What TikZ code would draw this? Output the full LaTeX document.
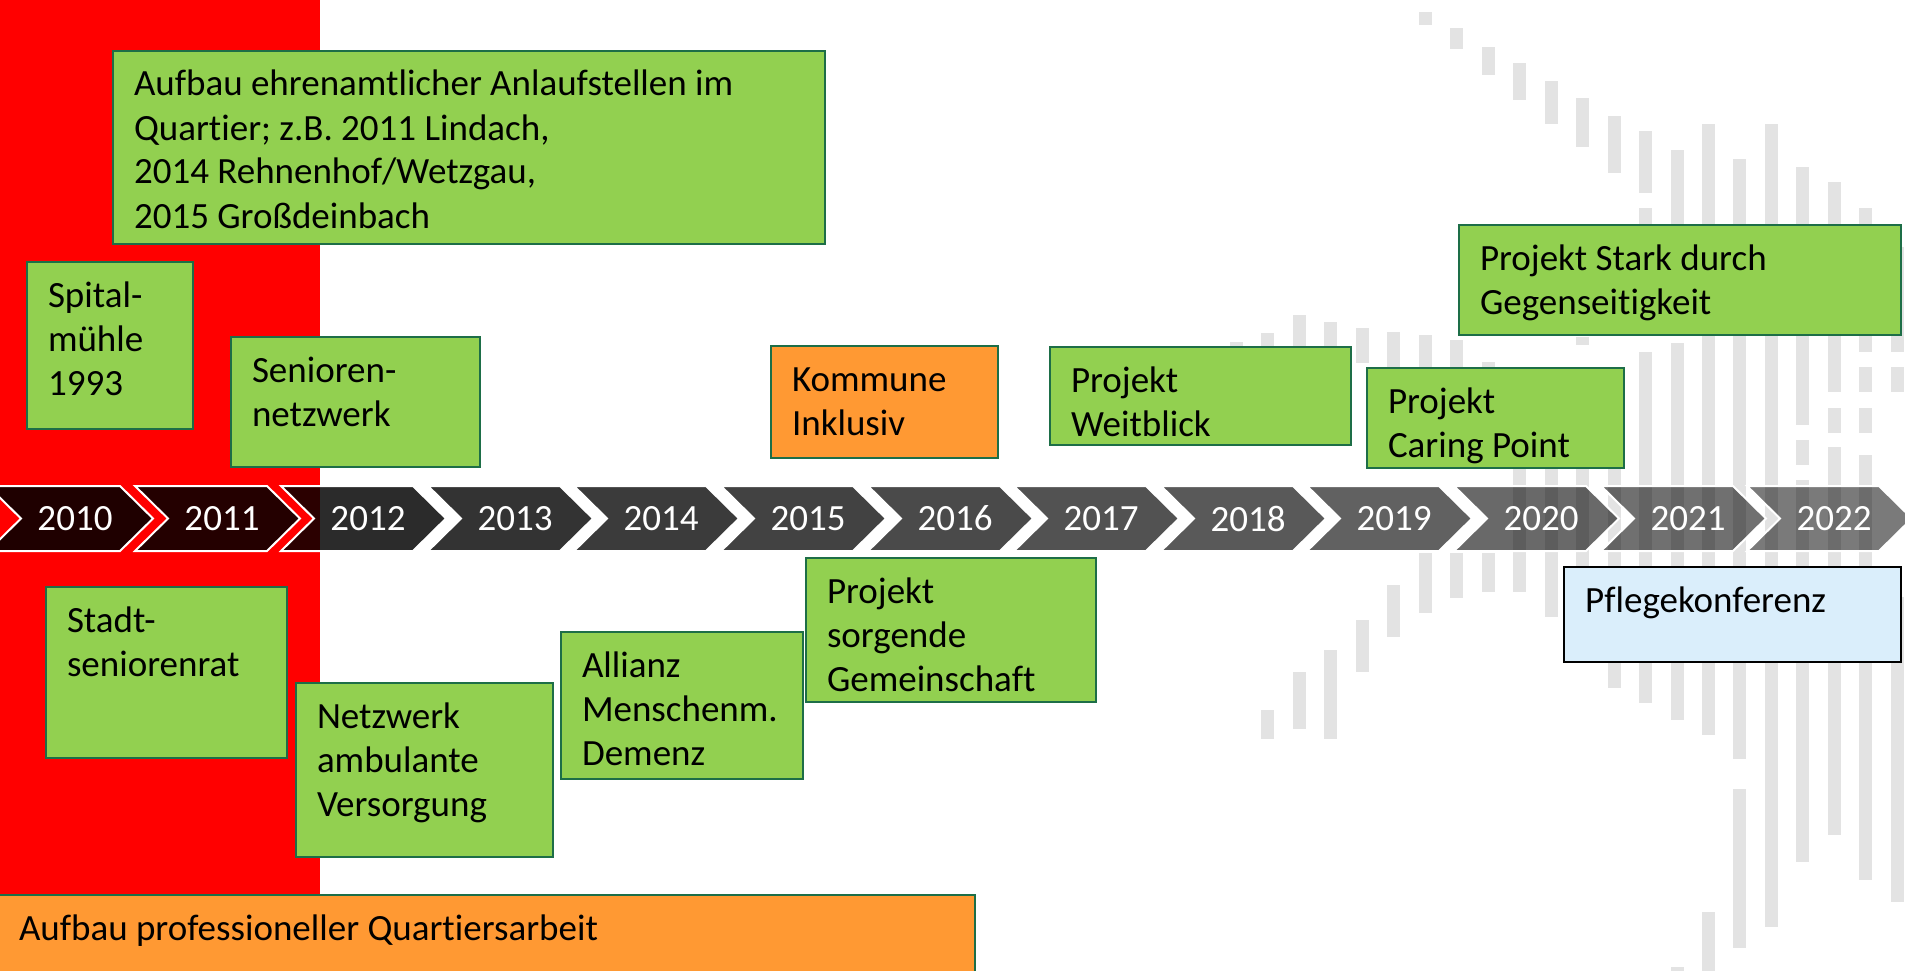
\documentclass[tikz,border=0pt]{standalone}
\usepackage{fontspec}
\setmainfont{Carlito}[Ligatures=CommonOff]
\definecolor{boxgreen}{HTML}{92D050}
\definecolor{boxedge}{HTML}{1D6E47}
\definecolor{boxorange}{HTML}{FF9933}
\definecolor{boxblue}{HTML}{DAEEFB}
\definecolor{barcol}{HTML}{E3E3E3}
\newcommand\boxtxt[3]{\parbox[t][#2][t]{#1}{\raggedright\rule{0pt}{28pt}#3}}

\begin{document}
\begin{tikzpicture}[x=1pt, y=-1pt, font=\fontsize{37pt}{44pt}\selectfont,
  box/.style={draw=boxedge, line width=2pt, fill=boxgreen, anchor=north west,
    inner xsep=21pt, inner ysep=17pt, outer sep=0pt},
  chev/.style={draw=white, line width=2pt, fill=black},
  year/.style={text=white},
  bar/.style={fill=barcol}]
\useasboundingbox (0,0) rectangle (1905,971);
\fill[red] (0,0) rectangle (320,971);

% grey bars in the background
\fill[bar] (1230,342) rectangle (1243,440);
\fill[bar] (1261,333) rectangle (1274,440);
\fill[bar] (1261,710) rectangle (1274,739);
\fill[bar] (1293,315) rectangle (1306,440);
\fill[bar] (1293,672) rectangle (1306,729);
\fill[bar] (1324,322) rectangle (1337,440);
\fill[bar] (1324,650) rectangle (1337,739);
\fill[bar] (1356,328) rectangle (1369,363);
\fill[bar] (1356,620) rectangle (1369,672);
\fill[bar] (1387,332) rectangle (1400,367);
\fill[bar] (1387,585) rectangle (1400,637);
\fill[bar] (1419,12) rectangle (1432,25);
\fill[bar] (1419,335) rectangle (1432,465);
\fill[bar] (1419,553) rectangle (1432,613);
\fill[bar] (1450,28) rectangle (1463,49);
\fill[bar] (1450,340) rectangle (1463,465);
\fill[bar] (1450,553) rectangle (1463,598);
\fill[bar] (1482,47) rectangle (1495,75);
\fill[bar] (1482,362) rectangle (1495,465);
\fill[bar] (1482,553) rectangle (1495,592);
\fill[bar] (1513,63) rectangle (1526,100);
\fill[bar] (1513,460) rectangle (1526,592);
\fill[bar] (1545,81) rectangle (1558,124);
\fill[bar] (1545,460) rectangle (1558,617);
\fill[bar] (1576,98) rectangle (1589,147);
\fill[bar] (1576,337) rectangle (1589,345);
\fill[bar] (1576,460) rectangle (1589,600);
\fill[bar] (1608,116) rectangle (1621,173);
\fill[bar] (1608,460) rectangle (1621,688);
\fill[bar] (1639,131) rectangle (1652,193);
\fill[bar] (1639,208) rectangle (1652,300);
\fill[bar] (1639,352) rectangle (1652,703);
\fill[bar] (1671,150) rectangle (1684,300);
\fill[bar] (1671,343) rectangle (1684,720);
\fill[bar] (1671,967) rectangle (1684,975);
\fill[bar] (1702,124) rectangle (1715,735);
\fill[bar] (1702,912) rectangle (1715,975);
\fill[bar] (1733,159) rectangle (1746,759);
\fill[bar] (1733,789) rectangle (1746,948);
\fill[bar] (1765,124) rectangle (1778,927);
\fill[bar] (1796,167) rectangle (1809,425);
\fill[bar] (1796,440) rectangle (1809,465);
\fill[bar] (1796,480) rectangle (1809,862);
\fill[bar] (1828,182) rectangle (1841,392);
\fill[bar] (1828,408) rectangle (1841,433);
\fill[bar] (1828,447) rectangle (1841,835);
\fill[bar] (1859,208) rectangle (1872,352);
\fill[bar] (1859,367) rectangle (1872,392);
\fill[bar] (1859,408) rectangle (1872,433);
\fill[bar] (1859,455) rectangle (1872,880);
\fill[bar] (1891,247) rectangle (1904,352);
\fill[bar] (1891,367) rectangle (1904,392);
\fill[bar] (1891,597) rectangle (1904,902);

% timeline
\filldraw[chev, fill opacity=.88] (-12,486) -- ++(132,0) -- ++(33,32.5) -- ++(-33,32.5) -- ++(-132,0) -- ++(33,-32.5) -- cycle;
\filldraw[chev, fill opacity=.86] (135,486) -- ++(132,0) -- ++(33,32.5) -- ++(-33,32.5) -- ++(-132,0) -- ++(33,-32.5) -- cycle;
\filldraw[chev, fill opacity=.83] (281,486) -- ++(132,0) -- ++(33,32.5) -- ++(-33,32.5) -- ++(-132,0) -- ++(33,-32.5) -- cycle;
\filldraw[chev, fill opacity=.80] (428,486) -- ++(132,0) -- ++(33,32.5) -- ++(-33,32.5) -- ++(-132,0) -- ++(33,-32.5) -- cycle;
\filldraw[chev, fill opacity=.77] (574,486) -- ++(132,0) -- ++(33,32.5) -- ++(-33,32.5) -- ++(-132,0) -- ++(33,-32.5) -- cycle;
\filldraw[chev, fill opacity=.74] (721,486) -- ++(132,0) -- ++(33,32.5) -- ++(-33,32.5) -- ++(-132,0) -- ++(33,-32.5) -- cycle;
\filldraw[chev, fill opacity=.71] (868,486) -- ++(132,0) -- ++(33,32.5) -- ++(-33,32.5) -- ++(-132,0) -- ++(33,-32.5) -- cycle;
\filldraw[chev, fill opacity=.68] (1014,486) -- ++(132,0) -- ++(33,32.5) -- ++(-33,32.5) -- ++(-132,0) -- ++(33,-32.5) -- cycle;
\filldraw[chev, fill opacity=.65] (1161,486) -- ++(132,0) -- ++(33,32.5) -- ++(-33,32.5) -- ++(-132,0) -- ++(33,-32.5) -- cycle;
\filldraw[chev, fill opacity=.62] (1307,486) -- ++(132,0) -- ++(33,32.5) -- ++(-33,32.5) -- ++(-132,0) -- ++(33,-32.5) -- cycle;
\filldraw[chev, fill opacity=.59] (1454,486) -- ++(132,0) -- ++(33,32.5) -- ++(-33,32.5) -- ++(-132,0) -- ++(33,-32.5) -- cycle;
\filldraw[chev, fill opacity=.56] (1601,486) -- ++(132,0) -- ++(33,32.5) -- ++(-33,32.5) -- ++(-132,0) -- ++(33,-32.5) -- cycle;
\filldraw[chev, fill opacity=.52] (1747,486) -- ++(132,0) -- ++(33,32.5) -- ++(-33,32.5) -- ++(-132,0) -- ++(33,-32.5) -- cycle;

\node[year] (y2010) at (75,518.5) {2010};
\node[year] (y2011) at (222,518.5) {2011};
\node[year] (y2012) at (368,518.5) {2012};
\node[year] (y2013) at (515,518.5) {2013};
\node[year] (y2014) at (661,518.5) {2014};
\node[year] (y2015) at (808,518.5) {2015};
\node[year] (y2016) at (955,518.5) {2016};
\node[year] (y2017) at (1101,518.5) {2017};
\node[year] (y2018) at (1248,518.5) {2018};
\node[year] (y2019) at (1394,518.5) {2019};
\node[year] (y2020) at (1541,518.5) {2020};
\node[year] (y2021) at (1688,518.5) {2021};
\node[year] (y2022) at (1834,518.5) {2022};

% boxes above the timeline
\node[box] (ehrenamt) at (113,51) {\boxtxt{670pt}{159pt}{Aufbau ehrenamtlicher Anlaufstellen im\\ Quartier; z.B. 2011 Lindach,\\ 2014 Rehnenhof/Wetzgau,\\ 2015 Großdeinbach}};
\node[box] (spital) at (27,262) {\boxtxt{124pt}{133pt}{Spital-\\ mühle\\ 1993}};
\node[box] (senioren) at (231,337) {\boxtxt{207pt}{96pt}{Senioren-\\ netzwerk}};
\node[box, fill=boxorange] (kommune) at (771,346) {\boxtxt{185pt}{78pt}{Kommune\\ Inklusiv}};
\node[box] (weitblick) at (1050,347) {\boxtxt{259pt}{64pt}{Projekt\\ Weitblick}};
\node[box] (stark) at (1459,225) {\boxtxt{400pt}{76pt}{Projekt Stark durch\\ Gegenseitigkeit}};
\node[box] (caring) at (1367,368) {\boxtxt{215pt}{66pt}{Projekt\\ Caring Point}};

% boxes below the timeline
\node[box] (stadt) at (46,587) {\boxtxt{199pt}{137pt}{Stadt-\\ seniorenrat}};
\node[box] (netzwerk) at (296,683) {\boxtxt{215pt}{140pt}{Netzwerk\\ ambulante\\ Versorgung}};
\node[box] (allianz) at (561,632) {\boxtxt{200pt}{113pt}{Allianz\\ Menschenm.\\ Demenz}};
\node[box] (sorgende) at (806,558) {\boxtxt{248pt}{110pt}{Projekt\\ sorgende\\ Gemeinschaft}};
\node[box, draw=black, fill=boxblue] (pflege) at (1564,567) {\boxtxt{295pt}{61pt}{Pflegekonferenz}};
\node[box, fill=boxorange] (profi) at (-2,895) {\boxtxt{935pt}{56pt}{Aufbau professioneller Quartiersarbeit}};
\end{tikzpicture}
\end{document}
